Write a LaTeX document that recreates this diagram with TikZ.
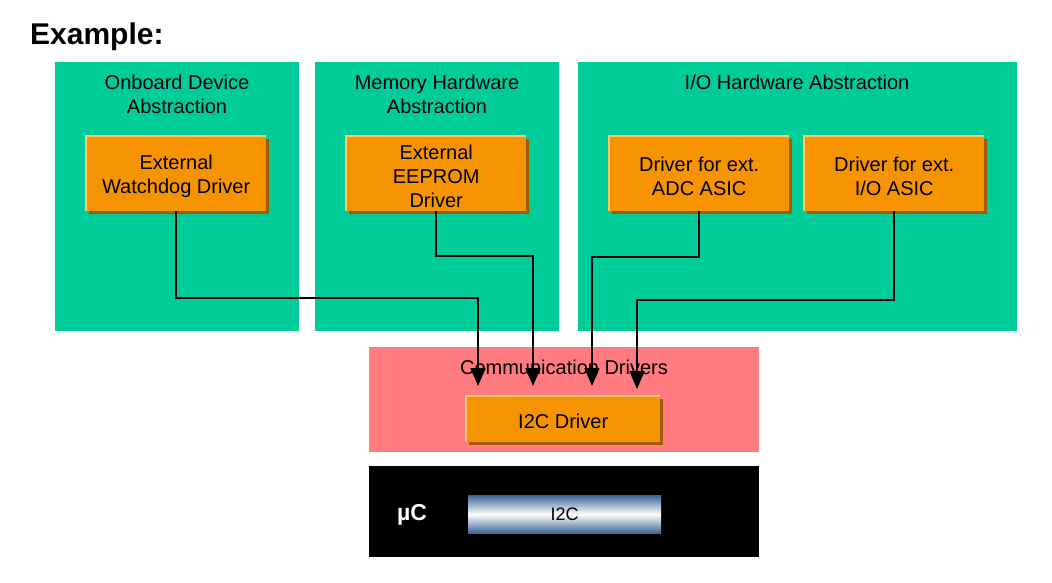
\documentclass[tikz,border=0pt]{standalone}
\usepackage{fontspec}
\setmainfont{Liberation Sans}
\usetikzlibrary{arrows.meta}
\definecolor{grn}{HTML}{00CC99}
\definecolor{org}{HTML}{F59300}
\definecolor{orgshadow}{HTML}{A25C00}
\definecolor{orgedge}{HTML}{FFC870}
\definecolor{pnk}{HTML}{FF7B80}
\definecolor{barblue}{HTML}{3C6496}
\tikzset{
  layer/.style={fill=grn, draw=none, inner sep=0pt, anchor=north west},
  title/.style={font=\fontsize{20}{24}\selectfont, align=center, anchor=center, inner sep=0pt},
  drv/.style={fill=org, draw=none, minimum width=180pt, minimum height=75pt, inner sep=0pt,
    anchor=north west,
    preaction={fill=orgshadow, transform canvas={xshift=3pt,yshift=-3pt}}},
  drvtext/.style={align=center, inner sep=0pt, font=\fontsize{20}{24}\selectfont},
  edgeline/.style={draw=orgedge, line width=1.5pt},
  conn/.style={draw=black, line width=2pt, -{Triangle[length=18pt,width=15pt]}},
}
\begin{document}
\begin{tikzpicture}[x=1pt,y=-1pt]
\useasboundingbox (0,0) rectangle (1052,582);
\fill[white] (0,0) rectangle (1052,582);
\node[anchor=base west, inner sep=0pt, font=\fontsize{30}{35}\selectfont\bfseries] (ex) at (30,44) {Example:};
% layers
\node[layer, minimum width=244pt, minimum height=269pt] (L1) at (55,62) {};
\node[layer, minimum width=244pt, minimum height=269pt] (L2) at (315,62) {};
\node[layer, minimum width=439pt, minimum height=269pt] (L3) at (578,62) {};
\node[title] (t1) at (177,94) {Onboard Device\\Abstraction};
\node[title] (t2) at (437,94) {Memory Hardware\\Abstraction};
\node[title] (t3) at (797,82) {I/O Hardware Abstraction};
% communication drivers
\node[fill=pnk, inner sep=0pt, anchor=north west, minimum width=390pt, minimum height=105pt] (cd) at (369,347) {};
\node[title] (tcd) at (564,367) {Communication Drivers};
% drivers
\node[drv] (wd) at (86,136) {};
\node[drv] (ee) at (346,136) {};
\node[drv] (adc) at (609,136) {};
\node[drv] (io) at (804,136) {};
\node[drv, minimum width=194pt, minimum height=46pt] (i2cd) at (466,396) {};
\foreach \n in {wd,ee,adc,io,i2cd} \draw[edgeline] (\n.south west) |- (\n.north east);
\node[drvtext] (wdt) at ([yshift=-3pt]wd.center) {External\\Watchdog Driver};
\node[drvtext] (eet) at ([yshift=-3pt]ee.center) {External\\EEPROM\\Driver};
\node[drvtext] (adct) at ([yshift=-3pt]adc.center) {Driver for ext.\\ADC ASIC};
\node[drvtext] (iot) at ([yshift=-3pt]io.center) {Driver for ext.\\I/O ASIC};
\node[drvtext] (i2cdt) at ([yshift=-2pt]i2cd.center) {I2C Driver};
% microcontroller
\node[fill=black, inner sep=0pt, anchor=north west, minimum width=390pt, minimum height=91pt] (uc) at (369,466) {};
\node[text=white, font=\fontsize{23}{27}\selectfont\bfseries, inner sep=0pt] (muc) at (412,515) {µC};
\node[inner sep=0pt, anchor=north west, minimum width=193pt, minimum height=38pt,
  top color=barblue, bottom color=barblue, middle color=white,
  font=\fontsize{18}{22}\selectfont] (i2c) at (468,495) {I2C};
% connectors
\coordinate (e1) at (478,386);
\coordinate (e2) at (533,386);
\coordinate (e3) at (592,386);
\coordinate (e4) at (637,389);
\draw[conn] (wd.south) |- (e1 |- 0,298) -- (e1);
\draw[conn] (ee.south) |- (e2 |- 0,256) -- (e2);
\draw[conn] (adc.south) |- (e3 |- 0,257) -- (e3);
\draw[conn] (io.south) |- (e4 |- 0,300) -- (e4);
\end{tikzpicture}
\end{document}
